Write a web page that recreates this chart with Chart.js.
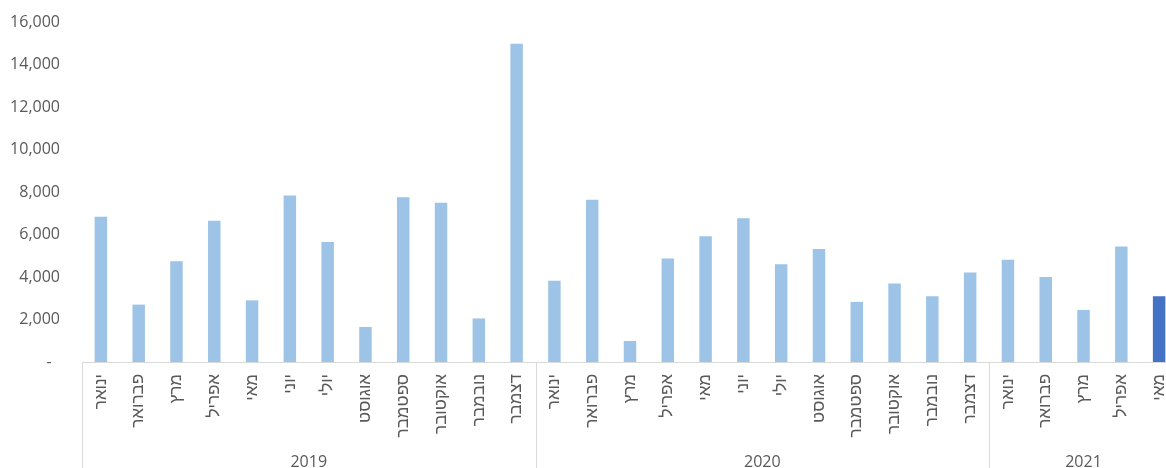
<!DOCTYPE html>
<html>
<head>
<meta charset="utf-8">
<script src="https://cdn.jsdelivr.net/npm/chart.js@4.4.1/dist/chart.umd.min.js"></script>
<style>
  html, body { margin: 0; padding: 0; background: #ffffff; overflow: hidden; }
  #wrap { width: 1178px; height: 468px; }
</style>
</head>
<body>
<div id="wrap"><canvas id="c" width="1178" height="468"></canvas></div>
<script>
const monthLabels = [
  'ינואר','פברואר','מרץ','אפריל','מאי','יוני','יולי','אוגוסט','ספטמבר','אוקטובר','נובמבר','דצמבר',
  'ינואר','פברואר','מרץ','אפריל','מאי','יוני','יולי','אוגוסט','ספטמבר','אוקטובר','נובמבר','דצמבר',
  'ינואר','פברואר','מרץ','אפריל','מאי'
];
const values = [
  6830, 2700, 4740, 6650, 2900, 7840, 5650, 1650, 7750, 7490, 2050, 14980,
  3820, 7630, 990, 4870, 5920, 6770, 4600, 5320, 2830, 3690, 3090, 4210,
  4810, 4000, 2450, 5430, 3090
];
const years = ['2019', '2020', '2021'];
const groupSizes = [12, 12, 5];
const yTicks = [0, 2000, 4000, 6000, 8000, 10000, 12000, 14000, 16000];

const LIGHT = '#9DC3E6';
const DARK = '#4472C4';
const TEXT = '#595959';
const LINE = '#D9D9D9';

const groupPlugin = {
  id: 'groups',
  afterDraw(chart) {
    const { ctx, chartArea } = chart;
    const x = chart.scales.x;
    const half = (x.getPixelForValue(1) - x.getPixelForValue(0)) / 2;
    const yTop = chartArea.bottom;
    const yBot = chart.height;
    ctx.save();
    ctx.strokeStyle = LINE;
    ctx.lineWidth = 1;
    const vline = (px) => {
      const xx = Math.round(px) + 0.5;
      ctx.beginPath();
      ctx.moveTo(xx, yTop);
      ctx.lineTo(xx, yBot);
      ctx.stroke();
    };
    let start = 0;
    vline(x.getPixelForValue(0) - half);
    ctx.fillStyle = TEXT;
    ctx.font = '16px "Open Sans", sans-serif';
    ctx.textAlign = 'center';
    ctx.textBaseline = 'alphabetic';
    years.forEach((yr, i) => {
      const end = start + groupSizes[i] - 1;
      const xl = x.getPixelForValue(start) - half;
      const xr = x.getPixelForValue(end) + half;
      vline(xr);
      ctx.fillText(yr, (xl + xr) / 2, 467);
      start = end + 1;
    });
    ctx.restore();
  }
};

new Chart(document.getElementById('c'), {
  type: 'bar',
  data: {
    labels: monthLabels,
    datasets: [{
      data: values,
      backgroundColor: (c) => c.dataIndex === values.length - 1 ? DARK : LIGHT,
      borderWidth: 0,
      barPercentage: 0.33,
      categoryPercentage: 1.0
    }]
  },
  options: {
    responsive: false,
    animation: false,
    devicePixelRatio: 1,
    layout: { padding: { top: 22, right: 0, bottom: 0, left: 0 } },
    plugins: { legend: { display: false }, tooltip: { enabled: false } },
    scales: {
      x: {
        offset: true,
        grid: { display: false, drawTicks: false },
        border: { display: true, color: LINE, width: 1 },
        ticks: {
          color: TEXT,
          font: { family: '"Liberation Sans", sans-serif', size: 17 },
          minRotation: 90,
          maxRotation: 90,
          autoSkip: false,
          padding: 12
        },
        afterFit(scale) {
          scale.height = 106;
          scale.paddingLeft = 0; scale.paddingRight = 0;
          scale.paddingTop = 0; scale.paddingBottom = 0;
        }
      },
      y: {
        min: 0,
        max: 16000,
        grid: { display: false, drawTicks: false },
        border: { display: false },
        afterBuildTicks(scale) { scale.ticks = yTicks.map(v => ({ value: v })); },
        ticks: {
          color: TEXT,
          font: { family: '"Open Sans", sans-serif', size: 16 },
          padding: 22,
          callback: (v) => v === 0 ? '-  ' : v.toLocaleString('en-US')
        },
        afterFit(scale) {
          scale.width = 82;
          scale.paddingTop = 0; scale.paddingBottom = 0;
          scale.paddingLeft = 0; scale.paddingRight = 0;
        }
      }
    }
  },
  plugins: [groupPlugin]
});
</script>
</body>
</html>
